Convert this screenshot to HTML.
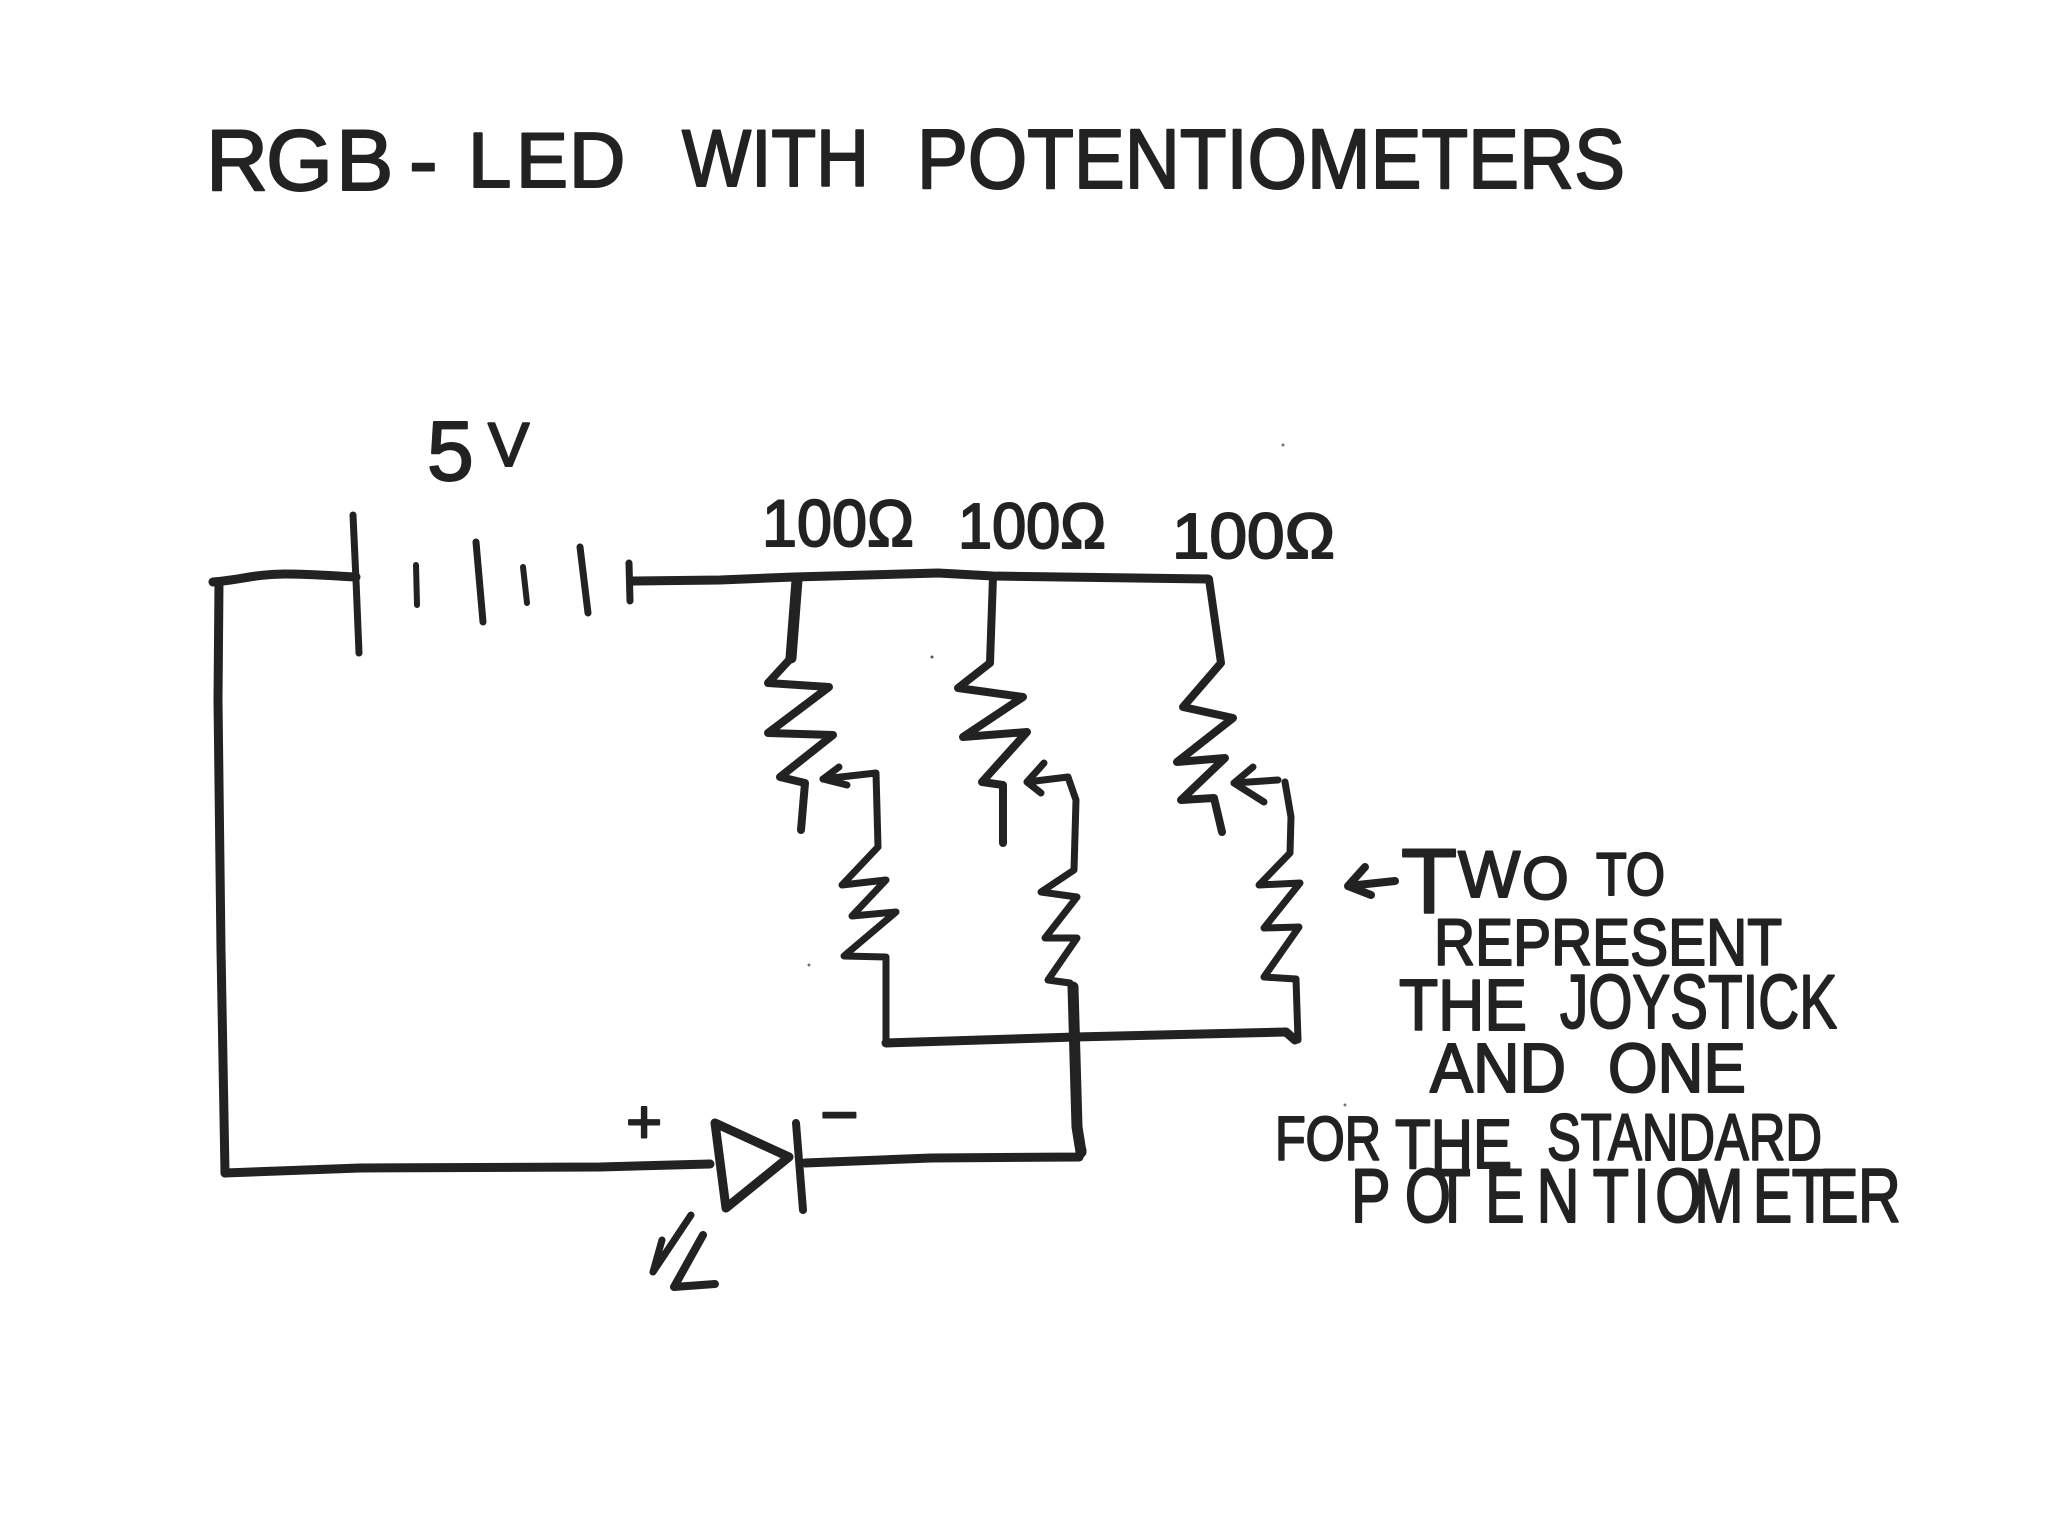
<!DOCTYPE html>
<html><head><meta charset="utf-8"><title>RGB-LED with potentiometers</title>
<style>html,body{margin:0;padding:0;background:#fff}svg{display:block}
path{fill:none;stroke:#222;stroke-linecap:round;stroke-linejoin:round}
text{font-family:"Liberation Sans",sans-serif;fill:#222;stroke:#222;stroke-width:2;stroke-linejoin:round}
</style></head><body>
<svg xmlns="http://www.w3.org/2000/svg" width="2048" height="1536" viewBox="0 0 2048 1536">
<rect width="2048" height="1536" fill="#fff"/>
<!-- title -->
<text x="206 266 336 409" y="190" font-size="86">RGB-</text>
<text x="468 516 569" y="187" font-size="78">LED</text>
<text x="682" y="186" font-size="81" textLength="187" lengthAdjust="spacingAndGlyphs">WITH</text>
<text x="917" y="188" font-size="84" textLength="708" lengthAdjust="spacingAndGlyphs">POTENTIOMETERS</text>
<!-- battery -->
<text x="427" y="480" font-size="84">5<tspan x="488" y="466" font-size="62">V</tspan></text>
<path stroke-width="9" d="M213 582C240 580 255 574 285 574C310 574 335 576 356 577"/>
<path stroke-width="9" d="M219 582L218 700L221 950L225 1173"/>
<path stroke-width="7" d="M353 515L356 580L359 653"/>
<path stroke-width="6" d="M416 565L417 605"/>
<path stroke-width="7" d="M476 542L483 622"/>
<path stroke-width="6" d="M523 567L527 603"/>
<path stroke-width="7" d="M580 547L588 613"/>
<path stroke-width="7" d="M629 563L630 601"/>
<path stroke-width="9" d="M631 581L720 580L794 577L938 573L993 576L1208 579"/>
<!-- labels -->
<text x="762" y="546" font-size="66" textLength="152" lengthAdjust="spacingAndGlyphs">100Ω</text>
<text x="958" y="548" font-size="64" textLength="148" lengthAdjust="spacingAndGlyphs">100Ω</text>
<text x="1172" y="558" font-size="64" textLength="163" lengthAdjust="spacingAndGlyphs">100Ω</text>
<!-- resistor 1 -->
<path stroke-width="11" d="M797 580L791 658"/>
<path stroke-width="8" d="M791 658L768 683L829 687L768 733L833 735L780 777L805 783L801 830"/>
<path stroke-width="7" d="M823 779L876 773L878 847L842 885L886 880L852 916L896 912L844 956L886 957L886 1042"/>
<path stroke-width="7" d="M839 767L823 779L847 785"/>
<!-- resistor 2 -->
<path stroke-width="8" d="M993 577L990 663L958 688L1023 697L963 737L1027 732L982 782L1003 785L1003 843"/>
<path stroke-width="7" d="M1027 782L1068 777L1076 800L1074 870L1041 892L1077 897L1045 938L1077 938L1048 980L1070 983"/>
<path stroke-width="7" d="M1044 763L1027 782L1041 793"/>
<path stroke-width="11" d="M1073 987L1077 1127L1081 1152"/>
<!-- resistor 3 -->
<path stroke-width="8" d="M1209 579L1221 663L1183 707L1233 718L1177 762L1225 758L1181 800L1214 798L1222 832"/>
<path stroke-width="7" d="M1234 783L1278 780"/>
<path stroke-width="7" d="M1253 767L1234 783L1264 802"/>
<path stroke-width="7" d="M1285 782L1291 817L1290 853L1259 885L1300 883L1264 928L1299 927L1264 977L1296 979L1298 1040"/>
<!-- bottom rail -->
<path stroke-width="9" d="M886 1043L1075 1037L1286 1032L1295 1040"/>
<!-- LED branch -->
<path stroke-width="9" d="M710 1164L600 1167L360 1168L225 1173"/>
<path stroke-width="9" d="M805 1163L931 1158L1079 1157L1082 1150"/>
<path stroke-width="9" d="M715 1123L726 1208L789 1157L715 1123"/>
<path stroke-width="8" d="M796 1123L803 1210"/>
<path stroke-width="7" d="M691 1215L653 1272L662 1240"/>
<path stroke-width="8" d="M703 1235L674 1287L715 1284"/>
<text x="626" y="1143" font-size="62" stroke-width="0.5">+</text>
<text x="820" y="1137" font-size="66" stroke-width="2">−</text>
<!-- note -->
<path stroke-width="8" d="M1395 881L1348 886M1365 867L1348 886L1371 895"/>
<text x="1401" y="913" font-size="92">T<tspan x="1458" y="897" font-size="66">W</tspan><tspan x="1522" y="899" font-size="60">O</tspan></text>
<text x="1596" y="895" font-size="60" textLength="69" lengthAdjust="spacingAndGlyphs">TO</text>
<text x="1434" y="965" font-size="66" textLength="348" lengthAdjust="spacingAndGlyphs">REPRESENT</text>
<text x="1399" y="1030" font-size="72" textLength="128" lengthAdjust="spacingAndGlyphs">THE</text>
<text x="1560" y="1028" font-size="76" textLength="277" lengthAdjust="spacingAndGlyphs">JOYSTICK</text>
<text x="1430" y="1092" font-size="70" textLength="136" lengthAdjust="spacingAndGlyphs">AND</text>
<text x="1608" y="1092" font-size="70" textLength="138" lengthAdjust="spacingAndGlyphs">ONE</text>
<text x="1275" y="1160" font-size="62" textLength="106" lengthAdjust="spacingAndGlyphs">FOR</text>
<text x="1395" y="1168" font-size="70" textLength="117" lengthAdjust="spacingAndGlyphs">THE</text>
<text x="1547" y="1160" font-size="66" textLength="275" lengthAdjust="spacingAndGlyphs">STANDARD</text>
<text transform="translate(1351 1222) scale(.78 1)" x="0 69 107 172 238 310 362 390 440 515 565 600 650" y="0" font-size="76">POTENTIOMETER</text>
<!-- specks -->
<circle cx="932" cy="657" r="1.5" fill="#555"/><circle cx="1283" cy="445" r="1.5" fill="#777"/><circle cx="809" cy="965" r="1.5" fill="#777"/><circle cx="1345" cy="1105" r="1.5" fill="#777"/>
</svg>
</body></html>
